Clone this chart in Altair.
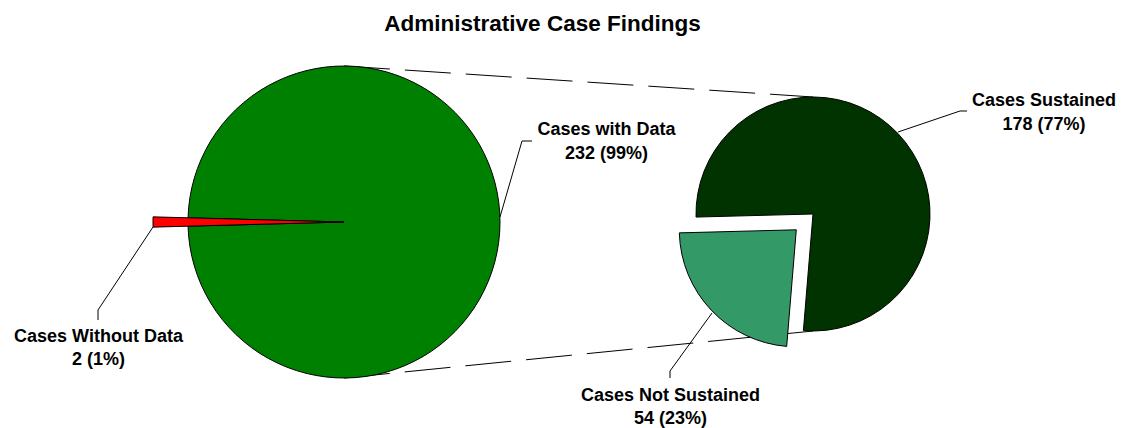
import altair as alt
import pandas as pd
import numpy as np

# ---------------- data ----------------
title_text = "Administrative Case Findings"
main_categories = ["Cases Without Data", "Cases with Data"]
main_values = [2, 232]
sub_categories = ["Cases Sustained", "Cases Not Sustained"]
sub_values = [178, 54]
category_colors = {
    "Cases Without Data": "#FF0000",
    "Cases with Data": "#008000",
    "Cases Sustained": "#003300",
    "Cases Not Sustained": "#339966",
}

# ---------------- layout ----------------
OFF = 8                       # page margin
W, H = 1109, 420
MAIN_C = (344, 222); MAIN_R = 156; RED_R = 191
SUB_C = (813, 214); SUB_R = 117
SUB_START_DEG = 268.5
EXPLODE = 23
FONT = "Liberation Sans"

def px(x):
    return x - OFF

# main pie: small slice centred at 9 o'clock
main_total = sum(main_values)
main_start_deg = 270 - (main_values[0] / main_total * 360) / 2
main_df = pd.DataFrame({"category": main_categories, "value": main_values})
main_df["t1"] = main_df["value"].cumsum()
main_df["t0"] = main_df["t1"] - main_df["value"]

sub_total = sum(sub_values)
sub_df = pd.DataFrame({"category": sub_categories, "value": sub_values})
sub_df["t1"] = sub_df["value"].cumsum()
sub_df["t0"] = sub_df["t1"] - sub_df["value"]

def theta_scale(total, start_deg):
    s = np.deg2rad(start_deg)
    return alt.Scale(domain=[0, total], range=[float(s), float(s + 2 * np.pi)])

color_scale = alt.Scale(domain=list(category_colors.keys()), range=list(category_colors.values()))

def arc_layer(df, total, start_deg, center, radius):
    return alt.Chart(df).mark_arc(radius=radius, stroke="black", strokeWidth=1).encode(
        theta=alt.Theta("t0:Q", scale=theta_scale(total, start_deg)),
        theta2="t1:Q",
        color=alt.Color("category:N", scale=color_scale, legend=None),
        x=alt.value(px(center[0])),
        y=alt.value(px(center[1])),
    )

main_green = arc_layer(main_df[main_df.category == "Cases with Data"], main_total, main_start_deg, MAIN_C, MAIN_R)
main_red = arc_layer(main_df[main_df.category == "Cases Without Data"], main_total, main_start_deg, MAIN_C, RED_R)

sub_sus = arc_layer(sub_df[sub_df.category == "Cases Sustained"], sub_total, SUB_START_DEG, SUB_C, SUB_R)
# exploded slice: shift centre along its bisector
ns = sub_df[sub_df.category == "Cases Not Sustained"].iloc[0]
a0 = SUB_START_DEG + ns.t0 / sub_total * 360
a1 = SUB_START_DEG + ns.t1 / sub_total * 360
bis = np.deg2rad((a0 + a1) / 2)
ex_c = (SUB_C[0] + EXPLODE * np.sin(bis), SUB_C[1] - EXPLODE * np.cos(bis))
sub_not = arc_layer(sub_df[sub_df.category == "Cases Not Sustained"], sub_total, SUB_START_DEG, ex_c, SUB_R)

# connector dashed lines between pies (top and bottom)
conn = pd.DataFrame({
    "seg": ["top", "top", "bot", "bot"],
    "o": [0, 1, 0, 1],
    "x": [px(MAIN_C[0]), px(SUB_C[0]), px(MAIN_C[0]), px(SUB_C[0])],
    "y": [px(MAIN_C[1] - MAIN_R), px(SUB_C[1] - SUB_R), px(MAIN_C[1] + MAIN_R), px(SUB_C[1] + SUB_R)],
})
connectors = alt.Chart(conn).mark_line(color="black", strokeWidth=1, strokeDash=[46, 15]).encode(
    x=alt.X("x:Q", scale=None, axis=None),
    y=alt.Y("y:Q", scale=None, axis=None),
    detail="seg:N",
    order="o:O",
)

# leader lines
leader_pts = {
    "Cases Without Data": [(153, 227), (98, 310), (98, 320)],
    "Cases with Data": [(500, 217), (522, 141), (532, 141)],
    "Cases Sustained": [(898, 132), (960, 111), (967, 111)],
    "Cases Not Sustained": [(712, 313), (670, 371), (670, 378)],
}
rows = []
for k, pts in leader_pts.items():
    for i, (x, y) in enumerate(pts):
        rows.append({"seg": k, "o": i, "x": px(x), "y": px(y)})
leaders = alt.Chart(pd.DataFrame(rows)).mark_line(color="black", strokeWidth=1).encode(
    x=alt.X("x:Q", scale=None, axis=None),
    y=alt.Y("y:Q", scale=None, axis=None),
    detail="seg:N",
    order="o:O",
)

# labels
label_pos = {
    "Cases Without Data": (98.5, 341.5),
    "Cases with Data": (606.5, 135),
    "Cases Sustained": (1044, 106),
    "Cases Not Sustained": (670.5, 400.5),
}
all_cats = main_categories + sub_categories
all_vals = main_values + sub_values
all_tot = [main_total] * 2 + [sub_total] * 2
lab_rows = []
for c, v, t in zip(all_cats, all_vals, all_tot):
    x, y = label_pos[c]
    lab_rows.append({"text": c, "x": px(x), "y": px(y)})
    lab_rows.append({"text": f"{v} ({round(v / t * 100)}%)", "x": px(x), "y": px(y + 23.5)})
labels = alt.Chart(pd.DataFrame(lab_rows)).mark_text(
    font=FONT, fontWeight="bold", fontSize=18, align="center", baseline="alphabetic", color="black"
).encode(
    x=alt.X("x:Q", scale=None, axis=None),
    y=alt.Y("y:Q", scale=None, axis=None),
    text="text:N",
)

title = alt.Chart(pd.DataFrame({"text": [title_text], "x": [px(542.5)], "y": [px(30.8)]})).mark_text(
    font=FONT, fontWeight="bold", fontSize=22.5, align="center", baseline="alphabetic", color="black"
).encode(
    x=alt.X("x:Q", scale=None, axis=None),
    y=alt.Y("y:Q", scale=None, axis=None),
    text="text:N",
)

chart = alt.layer(
    connectors, main_green, main_red, sub_sus, sub_not, leaders, labels, title
).resolve_scale(theta="independent").properties(
    width=W, height=H, autosize=alt.AutoSizeParams(type="none"), padding=0
).configure_view(stroke=None)

chart.save("out.html", embed_options={"renderer": "svg", "actions": False})
